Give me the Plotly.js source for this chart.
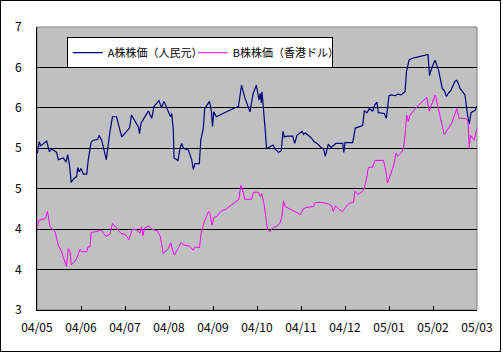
<!DOCTYPE html>
<html>
<head>
<meta charset="utf-8">
<script src="https://cdn.plot.ly/plotly-3.0.1.min.js"></script>
<style>
html,body{margin:0;padding:0;background:#fff;}
#frame{width:499px;height:350px;border:1px solid #000;}
#chart{width:499px;height:350px;}
</style>
</head>
<body>
<div id="frame"><div id="chart"></div></div>
<script>
// Month labels (axis positions 0..10 = one month each, starting 2004/05)
var monthLabels = ['04/05','04/06','04/07','04/08','04/09','04/10','04/11','04/12','05/01','05/02','05/03'];
var monthPos = [0,1,2,3,4,5,6,7,8,9,10];

// Y axis gridlines every 0.5; labels are shown rounded as in the original
var yTickVals = [3,3.5,4,4.5,5,5.5,6,6.5];
var yTickText = ['3','4','4','5','5','6','6','7'];

// Series names
var nameA = 'A株株価（人民元）';
var nameB = 'B株株価（香港ドル）';

// A-share price (time in months since 2004/05)
var aT = [0.007,0.052,0.084,0.220,0.280,0.334,0.448,0.484,0.598,0.659,0.698,0.734,0.766,0.773,0.848,0.902,0.925,0.961,1.000,1.052,1.130,
1.166,1.227,1.280,1.380,1.409,1.470,1.575,1.659,1.716,1.807,1.848,1.925,2.102,2.148,2.307,2.330,2.364,2.530,2.607,2.659,2.773,2.830,2.886,
3.000,3.034,3.061,3.098,3.114,3.205,3.250,3.289,3.325,3.439,3.516,3.552,3.591,3.689,3.723,3.780,3.811,3.920,3.966,3.989,4.018,4.075,
4.416,4.580,4.648,4.727,4.841,4.909,4.984,5.045,5.075,5.098,5.114,5.152,5.189,5.216,5.266,5.364,5.416,5.493,5.552,5.591,5.620,5.682,
5.811,5.857,5.909,6.023,6.061,6.098,6.211,6.302,6.364,6.455,6.516,6.552,6.591,6.620,6.682,6.795,6.948,6.973,7.000,7.175,7.234,7.402,
7.439,7.500,7.552,7.630,7.682,7.727,7.757,7.893,7.939,8.000,8.045,8.143,8.198,8.273,8.364,8.398,8.455,8.516,8.666,8.886,8.920,8.970,
9.045,9.125,9.211,9.261,9.307,9.348,9.409,9.500,9.539,9.568,9.614,9.727,9.780,9.825,9.864,9.955,9.993];
var aPrice = [4.94,5.08,5.03,5.09,4.96,4.99,4.95,4.86,4.88,4.83,4.92,4.81,4.65,4.58,4.63,4.65,4.76,4.71,4.75,4.68,4.68,
4.86,5.07,5.10,5.11,5.16,5.10,4.86,5.21,5.39,5.39,5.29,5.14,5.25,5.41,5.26,5.18,5.31,5.46,5.37,5.52,5.59,5.50,5.58,
5.45,5.39,5.43,5.23,4.88,4.85,5.00,5.06,5.00,4.98,4.86,4.74,4.81,4.81,5.10,5.25,5.49,5.58,5.45,5.27,5.45,5.39,
5.48,5.52,5.78,5.62,5.45,5.67,5.78,5.60,5.68,5.56,5.70,5.49,5.21,5.00,5.01,5.04,4.99,4.95,4.97,5.21,5.14,5.15,
5.15,5.06,5.16,5.21,5.17,5.19,5.14,5.08,5.06,5.01,4.99,4.90,5.00,5.05,5.01,5.06,5.06,4.95,5.07,5.07,5.25,5.28,
5.46,5.44,5.49,5.46,5.54,5.57,5.44,5.43,5.37,5.65,5.66,5.65,5.67,5.66,5.70,5.95,6.09,6.11,6.13,6.16,5.90,5.99,
6.09,5.97,5.74,5.71,5.64,5.68,5.72,5.83,5.84,5.81,5.74,5.66,5.43,5.30,5.44,5.47,5.52];

// B-share price (time in months since 2004/05)
var bT = [0.007,0.045,0.189,0.239,0.295,0.409,0.484,0.561,0.598,0.670,0.711,0.750,0.780,0.825,0.898,0.977,1.016,1.130,1.159,1.205,
1.232,1.357,1.450,1.568,1.659,1.716,1.795,1.905,2.018,2.086,2.170,2.273,2.341,2.375,2.409,2.443,2.530,2.607,2.734,2.802,2.868,2.973,
3.045,3.080,3.125,3.273,3.364,3.470,3.548,3.591,3.693,3.727,3.789,3.898,3.932,3.977,4.023,4.075,4.177,4.302,4.591,4.630,4.666,4.723,
4.875,4.916,4.977,5.034,5.080,5.107,5.159,5.209,5.239,5.291,5.348,5.459,5.523,5.568,5.602,5.641,5.757,5.870,5.989,6.050,6.130,6.284,
6.323,6.489,6.625,6.693,6.732,6.784,6.870,6.948,7.023,7.098,7.193,7.227,7.284,7.364,7.432,7.489,7.530,7.630,7.682,7.875,7.905,7.932,
7.966,8.030,8.107,8.159,8.198,8.273,8.330,8.364,8.402,8.439,8.477,8.630,8.857,8.916,9.052,9.130,9.255,9.425,9.539,9.595,9.734,9.795,
9.825,9.852,9.936,9.993];
var bPrice = [4.03,4.11,4.13,4.22,4.03,3.97,3.80,3.72,3.65,3.54,3.76,3.72,3.56,3.58,3.63,3.75,3.72,3.72,3.78,3.78,
3.96,3.97,3.99,3.91,3.94,4.07,4.02,3.95,3.93,3.87,4.00,3.99,3.95,4.03,3.92,4.01,4.04,4.00,3.98,3.91,3.70,3.75,
3.83,3.74,3.68,3.83,3.80,3.79,3.74,3.78,3.77,3.94,4.07,4.22,4.19,4.05,4.15,4.15,4.22,4.25,4.37,4.54,4.50,4.37,
4.37,4.45,4.46,4.45,4.40,4.44,4.31,4.08,4.00,3.97,4.01,4.04,4.08,4.16,4.35,4.28,4.25,4.22,4.18,4.25,4.27,4.28,
4.33,4.33,4.31,4.29,4.22,4.29,4.24,4.22,4.28,4.32,4.33,4.47,4.43,4.45,4.50,4.62,4.76,4.77,4.85,4.85,4.78,4.71,
4.57,4.67,4.79,4.94,4.90,4.94,5.00,5.16,5.41,5.33,5.41,5.51,5.63,5.46,5.66,5.47,5.17,5.31,5.49,5.37,5.37,5.34,
5.01,5.16,5.10,5.24];

var font = {family: '"Noto Sans CJK JP", "DejaVu Sans", sans-serif', size: 12, color: '#000'};
var legendFont = {family: '"Noto Sans CJK JP", "DejaVu Sans", sans-serif', size: 11, color: '#000'};

var traces = [
  {x: aT, y: aPrice, name: nameA, type: 'scatter', mode: 'lines',
   line: {color: '#000080', width: 1.2}, legendwidth: 80},
  {x: bT, y: bPrice, name: nameB, type: 'scatter', mode: 'lines',
   line: {color: '#FF00FF', width: 1}, legendwidth: 94}
];

var layout = {
  width: 499, height: 350,
  margin: {l: 36, r: 23, t: 26, b: 41, pad: 0},
  paper_bgcolor: '#FFFFFF',
  plot_bgcolor: '#C0C0C0',
  font: font,
  showlegend: true,
  legend: {
    orientation: 'h', x: 0.0675, y: 0.964, xanchor: 'left', yanchor: 'top',
    bgcolor: '#FFFFFF', bordercolor: '#000', borderwidth: 1,
    font: legendFont, tracegroupgap: 0,
    entrywidthmode: 'pixels'
  },
  xaxis: {
    range: [0, 10], tickvals: monthPos, ticktext: monthLabels,
    showgrid: false, zeroline: false,
    showline: true, linecolor: '#000', linewidth: 1,
    ticks: 'inside', ticklen: 4, tickcolor: '#000', tickwidth: 1,
    ticklabelstandoff: 7,
    tickfont: font, fixedrange: true
  },
  yaxis: {
    range: [3, 6.5], tickvals: yTickVals, ticktext: yTickText,
    showgrid: true, gridcolor: '#000', gridwidth: 1,
    zeroline: false,
    showline: true, linecolor: '#000', linewidth: 1,
    ticks: '', ticklabelstandoff: 12,
    tickfont: font, fixedrange: true
  },
  shapes: [
    {type: 'rect', xref: 'paper', yref: 'paper', x0: 0, x1: 1, y0: 0, y1: 1,
     line: {color: '#808080', width: 1}, layer: 'below'}
  ]
};

Plotly.newPlot('chart', traces, layout, {staticPlot: true, displayModeBar: false});
</script>
</body>
</html>
